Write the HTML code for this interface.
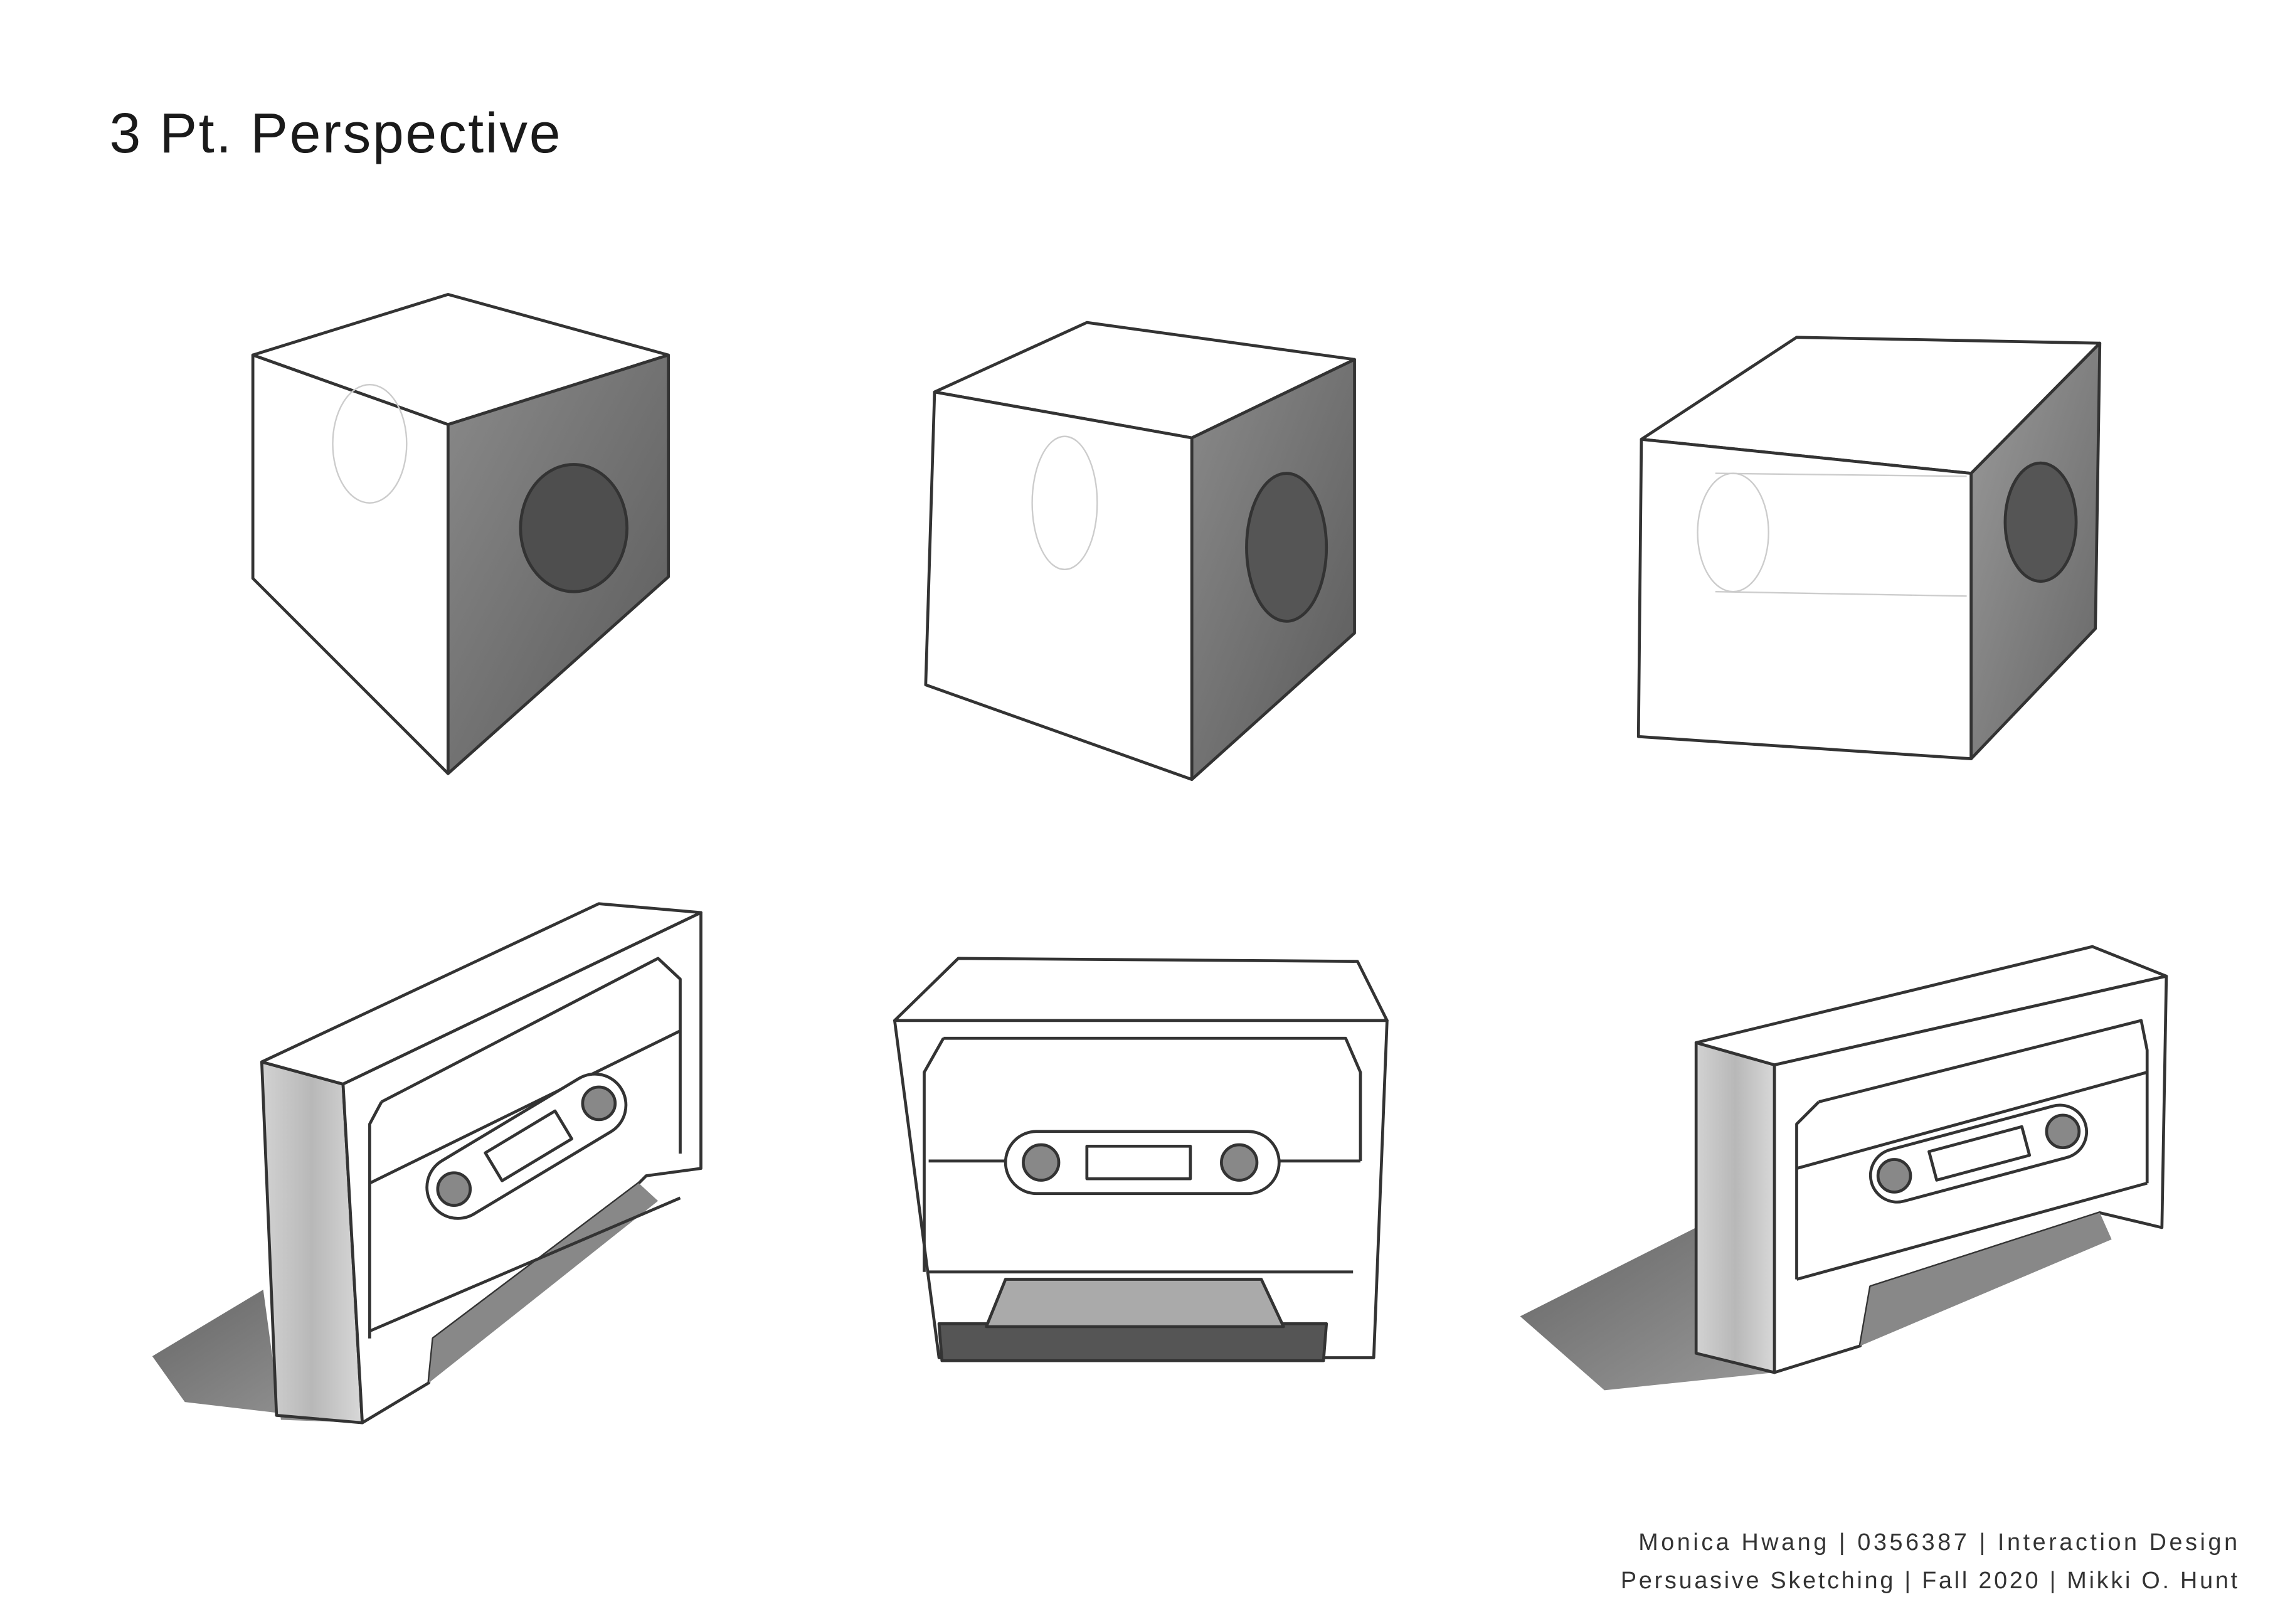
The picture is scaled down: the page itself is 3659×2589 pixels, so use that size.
<!DOCTYPE html>
<html><head><meta charset="utf-8"><style>
html,body{margin:0;padding:0;background:#fff;}
svg{display:block}
</style></head><body>
<svg width="3659" height="2589" viewBox="0 0 1552 1098" xmlns="http://www.w3.org/2000/svg">
<defs>
<linearGradient id="dk" x1="0" y1="0" x2="1" y2="1"><stop offset="0" stop-color="#8a8a8a"/><stop offset="1" stop-color="#5a5a5a"/></linearGradient>
<linearGradient id="dk2" x1="0" y1="0" x2="1" y2="1"><stop offset="0" stop-color="#9a9a9a"/><stop offset="1" stop-color="#666"/></linearGradient>
<linearGradient id="side" x1="0" y1="0" x2="1" y2="0"><stop offset="0" stop-color="#d2d2d2"/><stop offset="0.5" stop-color="#b8b8b8"/><stop offset="1" stop-color="#d8d8d8"/></linearGradient>
<linearGradient id="sh" x1="0" y1="0" x2="1" y2="1"><stop offset="0" stop-color="#666"/><stop offset="1" stop-color="#999"/></linearGradient>
</defs>
<text x="74" y="103" font-family="Liberation Sans, sans-serif" font-size="38" fill="#1a1a1a" textLength="305">3 Pt. Perspective</text>
<g font-family="Liberation Sans, sans-serif" font-size="16" fill="#333" text-anchor="end" xml:space="preserve">
<text x="1513" y="1048" textLength="405">Monica Hwang  |  0356387  |  Interaction Design</text>
<text x="1513" y="1074" textLength="417">Persuasive Sketching  |  Fall 2020  |  Mikki O. Hunt</text>
</g>
<g stroke="#333" stroke-width="2" stroke-linejoin="round" fill="#fff">
<polygon points="171,240 303,199 452,240 303,287"/>
<polygon points="171,240 303,287 303,523 171,391"/>
<polygon points="303,287 452,240 452,390 303,523" fill="url(#dk)"/>
<ellipse cx="388" cy="357" rx="36" ry="43" fill="#4e4e4e"/>
<polygon points="632,265 735,218 916,243 806,296"/>
<polygon points="632,265 806,296 806,527 626,463"/>
<polygon points="806,296 916,243 916,428 806,527" fill="url(#dk)"/>
<ellipse cx="870" cy="370" rx="27" ry="50" fill="#555"/>
<polygon points="1110,297 1215,228 1420,232 1333,320"/>
<polygon points="1110,297 1333,320 1333,513 1108,498"/>
<polygon points="1333,320 1420,232 1417,425 1333,513" fill="url(#dk2)"/>
<ellipse cx="1380" cy="353" rx="24" ry="40" fill="#555"/>
</g>
<g stroke="#ccc" stroke-width="1" fill="none">
<ellipse cx="250" cy="300" rx="25" ry="40"/>
<ellipse cx="720" cy="340" rx="22" ry="45"/>
<path d="M1160,320 L1330,322 M1160,400 L1330,403"/>
<ellipse cx="1172" cy="360" rx="24" ry="40"/>
</g>
<polygon points="103,917 178,872 190,960 245,962 125,948" fill="url(#sh)"/>
<polygon points="1028,890 1147,830 1147,915 1200,928 1085,940" fill="url(#sh)"/>
<g stroke="#333" stroke-width="2" stroke-linejoin="round" fill="#fff">
<polygon points="177,718 232,733 245,962 187,957" fill="url(#side)"/>
<polygon points="177,718 405,611 474,617 232,733"/>
<polygon points="232,733 474,617 474,790 437,795 432,800 293,905 290,935 245,962"/>
<polygon points="293,905 432,800 445,812 290,935" fill="#888" stroke="none"/>
<path d="M258,745 L445,648 L460,662 L460,780 M250,800 L460,697 M250,900 L460,810" fill="none"/>
<path d="M258,745 L250,760 L250,905" fill="none"/>
<rect x="281" y="754" width="150" height="42" rx="21" transform="rotate(-31 356 775)"/>
<circle cx="307" cy="804" r="11" fill="#888"/>
<circle cx="405" cy="746" r="11" fill="#888"/>
<rect x="330" y="764" width="55" height="22" transform="rotate(-31 357 775)"/>
<polygon points="648,648 918,650 938,690 605,690"/>
<polygon points="605,690 938,690 929,918 635,918"/>
<polygon points="635,895 897,895 895,920 637,920" fill="#555"/>
<polygon points="680,865 853,865 868,897 667,897" fill="#aaa"/>
<path d="M638,702 L910,702 L920,725 L920,785 M628,785 L920,785 M628,860 L915,860 M638,702 L625,725 L625,860" fill="none"/>
<rect x="680" y="765" width="185" height="42" rx="21"/>
<circle cx="704" cy="786" r="12" fill="#888"/>
<circle cx="838" cy="786" r="12" fill="#888"/>
<rect x="735" y="775" width="70" height="22"/>
<polygon points="1147,705 1200,720 1200,928 1147,915" fill="url(#side)"/>
<polygon points="1147,705 1415,640 1465,660 1200,720"/>
<polygon points="1200,720 1465,660 1462,830 1420,820 1265,870 1258,910 1200,928"/>
<polygon points="1265,870 1420,820 1428,838 1258,910" fill="#888" stroke="none"/>
<path d="M1230,745 L1448,690 L1452,710 L1452,800 M1215,790 L1452,725 M1215,865 L1452,800 M1230,745 L1215,760 L1215,865" fill="none"/>
<rect x="1263" y="762" width="150" height="36" rx="18" transform="rotate(-15 1338 780)"/>
<circle cx="1281" cy="795" r="11" fill="#888"/>
<circle cx="1395" cy="765" r="11" fill="#888"/>
<rect x="1306" y="770" width="65" height="20" transform="rotate(-15 1338 780)"/>
</g>
</svg>
</body></html>
